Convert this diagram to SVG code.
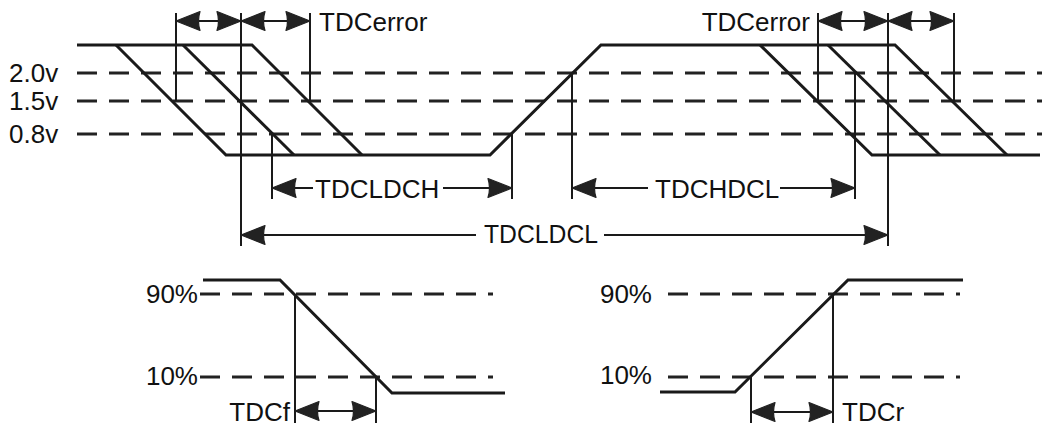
<svg xmlns="http://www.w3.org/2000/svg" width="1046" height="426" viewBox="0 0 1046 426">
<defs>
<marker id="ah" markerUnits="userSpaceOnUse" viewBox="0 -11 26 22" refX="25" refY="0" markerWidth="26" markerHeight="22" orient="auto-start-reverse">
<path d="M1,-9.5 L25,0 L1,9.5 Q4,0 1,-9.5 Z" fill="#222" stroke="#222" stroke-width="1.2" stroke-linejoin="round"/>
</marker>
</defs>
<style>
.w{fill:none;stroke:#1a1a1a;stroke-width:3;stroke-linejoin:miter}
.d{fill:none;stroke:#222;stroke-width:3;stroke-dasharray:20 12}
.v{stroke:#1a1a1a;stroke-width:2;fill:none}
.a{stroke:#1a1a1a;stroke-width:2;fill:none;marker-end:url(#ah)}
.b{stroke:#1a1a1a;stroke-width:2;fill:none;marker-start:url(#ah)}
.ab{stroke:#1a1a1a;stroke-width:2;fill:none;marker-start:url(#ah);marker-end:url(#ah)}
text{font-family:"Liberation Sans",Arial,Helvetica,sans-serif;font-size:26px;fill:#111}
.e{text-anchor:end}
</style>
<rect width="1046" height="426" fill="#fff"/>

<g id="thresholds">
<path class="d" d="M77,73 H1042 M77,101 H1042 M77,134 H1042"/>
<path class="d" d="M200,294 H493 M200,377 H493"/>
<path class="d" d="M668,294 H960 M668,377 H960"/>
</g>

<g id="waveform-top">
<path class="w" d="M77,45 H252 L362,155"/>
<path class="w" d="M116,45 L226,155 H490 L601,45 H895 L1007,155"/>
<path class="w" d="M183,45 L294,155"/>
<path class="w" d="M760,45 L872,155 H1040"/>
<path class="w" d="M828,45 L940,155"/>
</g>

<g id="waveform-fall">
<path class="w" d="M203,280 H280 L392,393 H505"/>
</g>
<g id="waveform-rise">
<path class="w" d="M660,392 H735 L848,280 H963"/>
</g>

<g id="extension-lines">
<path class="v" d="M176,13 V101 M241,13 V246 M310,13 V101 M272,134 V199 M512,134 V199 M572,73 V199"/>
<path class="v" d="M818,13 V101 M855,73 V199 M888,13 V246 M954,13 V101"/>
<path class="v" d="M295,294 V423 M376,377 V423"/>
<path class="v" d="M751,377 V423 M833,294 V423"/>
</g>

<g id="connectors">
<line class="ab" x1="176" y1="21" x2="241" y2="21"/>
<line class="ab" x1="241" y1="21" x2="310" y2="21"/>
<line class="ab" x1="818" y1="21" x2="888" y2="21"/>
<line class="ab" x1="888" y1="21" x2="954" y2="21"/>
<line class="b" x1="272" y1="188" x2="313" y2="188"/>
<line class="a" x1="443" y1="188" x2="512" y2="188"/>
<line class="b" x1="572" y1="188" x2="648" y2="188"/>
<line class="a" x1="780" y1="188" x2="855" y2="188"/>
<line class="b" x1="241" y1="235" x2="476" y2="235"/>
<line class="a" x1="604" y1="235" x2="888" y2="235"/>
<line class="ab" x1="295" y1="411" x2="376" y2="411"/>
<line class="ab" x1="751" y1="412" x2="833" y2="412"/>
</g>

<g id="labels">
<text x="9" y="82">2.0v</text>
<text x="9" y="110">1.5v</text>
<text x="9" y="143">0.8v</text>
<text x="319" y="31">TDCerror</text>
<text class="e" x="810" y="31">TDCerror</text>
<text x="315" y="198">TDCLDCH</text>
<text x="655" y="198">TDCHDCL</text>
<text x="484" y="243" textLength="114" lengthAdjust="spacingAndGlyphs">TDCLDCL</text>
<text class="e" x="198" y="303">90%</text>
<text class="e" x="198" y="385">10%</text>
<text class="e" x="652" y="303">90%</text>
<text class="e" x="652" y="384">10%</text>
<text class="e" x="290" y="421">TDCf</text>
<text x="842" y="421">TDCr</text>
</g>
</svg>
